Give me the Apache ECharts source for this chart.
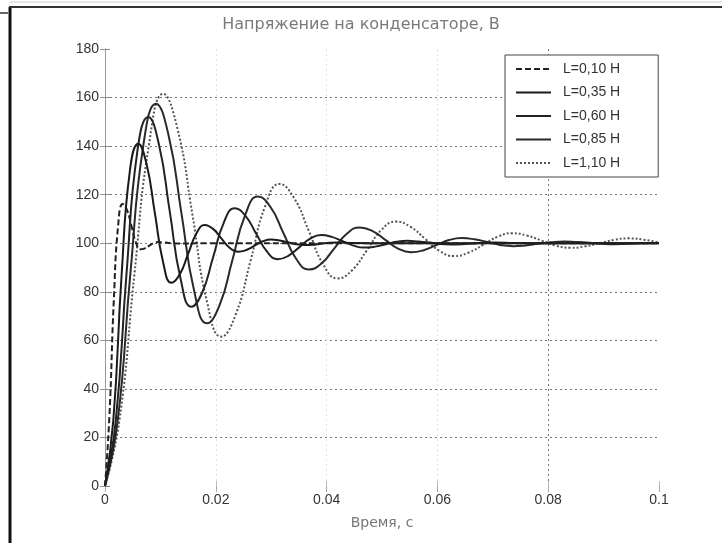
<!DOCTYPE html>
<html>
<head>
<meta charset="utf-8">
<script src="https://cdn.jsdelivr.net/npm/echarts@6/dist/echarts.min.js"></script>
<style>
html,body{margin:0;padding:0;background:#fff;}
#c{width:722px;height:543px;}
</style>
</head>
<body>
<div id="c"></div>
<script>
const titleText = 'Напряжение на конденсаторе, В';
const xName = 'Время, с';
const seriesNames = ['L=0,10 H', 'L=0,35 H', 'L=0,60 H', 'L=0,85 H', 'L=1,10 H'];
const xTicks = [0, 0.02, 0.04, 0.06, 0.08, 0.1];
const yTicks = [0, 20, 40, 60, 80, 100, 120, 140, 160, 180];

const dataL010 = [[0,0],[0.0008,29],[0.0016,77],[0.0024,108],[0.0032,116.2],[0.004,113.5],[0.0048,106.9],[0.0056,100.2],[0.0064,97.5],[0.0072,97.9],[0.008,99],[0.0088,100.1],[0.0096,100.5],[0.0104,100.4],[0.0112,100.2],[0.012,100],[0.0128,99.9],[0.02,100],[0.04,100],[0.06,100],[0.08,100],[0.1,100]];

const dataL035 = [[0,0],[0.0015,27],[0.003,87],[0.0045,130],[0.006,141],[0.0075,132.6],[0.009,112.4],[0.0105,92.1],[0.012,83.7],[0.0135,87.2],[0.015,95.6],[0.0165,104],[0.018,107.5],[0.0195,105.9],[0.021,102],[0.0225,98.1],[0.024,96.5],[0.0255,97.2],[0.027,99],[0.0285,100.8],[0.03,101.5],[0.0315,101.1],[0.033,100.4],[0.0345,99.6],[0.036,99.3],[0.0375,99.4],[0.039,99.8],[0.0405,100.2],[0.042,100.3],[0.045,100.1],[0.05,100],[0.07,100],[0.1,100]];

const dataL060 = [[0,0],[0.00195,27],[0.0039,88],[0.00585,138],[0.0078,152],[0.00975,140.5],[0.0117,112.9],[0.01365,85.3],[0.0156,73.8],[0.01755,79.7],[0.0195,94.1],[0.02145,108.5],[0.0234,114.4],[0.02535,111.3],[0.0273,103.9],[0.02925,96.5],[0.0312,93.4],[0.03315,94.9],[0.0351,98.4],[0.03705,101.9],[0.039,103.4],[0.04095,102.6],[0.0429,100.8],[0.04485,99],[0.0468,98.2],[0.04875,98.6],[0.0507,99.6],[0.05265,100.6],[0.0546,101],[0.05655,100.7],[0.0585,100.25],[0.06045,99.7],[0.0624,99.5],[0.06435,99.6],[0.0663,99.9],[0.06825,100.2],[0.0702,100.3],[0.074,100.1],[0.08,100],[0.1,100]];

const dataL085 = [[0,0],[0.0023,27],[0.0046,88],[0.0069,140],[0.0092,157.5],[0.0115,144.2],[0.0138,112.3],[0.0161,80.3],[0.0184,67],[0.0207,74.6],[0.023,93.1],[0.0253,111.6],[0.0276,119.2],[0.0299,114.8],[0.0322,104.2],[0.0345,93.6],[0.0368,89.2],[0.0391,91.7],[0.0414,97.9],[0.0437,104],[0.046,106.5],[0.0483,105],[0.0506,101.4],[0.0529,97.8],[0.0552,96.3],[0.0575,97.1],[0.0598,99.2],[0.0621,101.3],[0.0644,102.1],[0.0667,101.6],[0.069,100.5],[0.0713,99.3],[0.0736,98.8],[0.0759,99.1],[0.0782,99.8],[0.0805,100.4],[0.0828,100.7],[0.0851,100.5],[0.0874,100.2],[0.0897,99.8],[0.092,99.6],[0.0966,100],[0.1,100.1]];

const dataL110 = [[0,0],[0.0026,27],[0.0053,87],[0.0079,140],[0.0105,161.5],[0.0131,147],[0.0158,111.5],[0.0184,76],[0.021,61.5],[0.0236,70.7],[0.0263,93],[0.0289,115.2],[0.0315,124.4],[0.0341,118.7],[0.0368,105],[0.0394,91.2],[0.042,85.5],[0.0446,88.9],[0.0473,97.2],[0.0499,105.5],[0.0525,108.9],[0.0551,106.8],[0.0578,101.8],[0.0604,96.8],[0.063,94.7],[0.0656,96.1],[0.0683,99.4],[0.0709,102.7],[0.0735,104.1],[0.0761,103.2],[0.0788,101.1],[0.0814,99],[0.084,98.1],[0.0866,98.7],[0.0893,100],[0.0919,101.4],[0.0945,102],[0.0971,101.5],[0.1,100.3]];

const seriesData = [dataL010, dataL035, dataL060, dataL085, dataL110];
const lineTypes = [[6,3], 'solid', 'solid', 'solid', [2,2]];
const lineColors = ['#222', '#1a1a1a', '#222', '#2a2a2a', '#555'];

const chart = echarts.init(document.getElementById('c'), null, {renderer: 'canvas'});
const FONT = '"Liberation Sans", Arial, sans-serif';

const option = {
  backgroundColor: '#fff',
  animation: false,
  title: {
    text: titleText,
    left: 'center',
    top: 12,
    textStyle: {fontSize: 16, fontWeight: 'normal', color: '#7a7a7a', fontFamily: '"DejaVu Sans", sans-serif'}
  },
  legend: {
    orient: 'vertical',
    left: 505,
    top: 55,
    selectedMode: false,
    padding: [7, 38, 7, 10],
    itemGap: 9.5,
    itemWidth: 35,
    itemHeight: 14,
    backgroundColor: '#fff',
    borderColor: '#444',
    borderWidth: 1,
    itemStyle: {opacity: 0},
    textStyle: {fontSize: 14, color: '#333', fontFamily: FONT, padding: [0, 0, 0, 7]},
    data: seriesNames
  },
  grid: {left: 105, right: 63, top: 49, bottom: 57, containLabel: false},
  xAxis: [{
    type: 'value',
    min: 0, max: 0.1, interval: 0.02,
    name: xName,
    nameLocation: 'middle',
    nameGap: 30,
    nameTextStyle: {fontSize: 14, color: '#777', fontFamily: '"DejaVu Sans", sans-serif'},
    axisLine: {show: false},
    axisTick: {show: true, inside: true, length: 5, lineStyle: {color: '#bbb'}},
    axisLabel: {fontSize: 14, color: '#333', fontFamily: FONT, margin: 7,
      formatter: v => String(+v.toFixed(2))},
    splitLine: {show: true, lineStyle: {type: [2, 3], width: 1,
      color: ['rgba(0,0,0,0)', '#e2e2e2', '#e2e2e2', '#e2e2e2', '#777', 'rgba(0,0,0,0)']}}
  }, {
    type: 'value',
    position: 'top',
    min: 0, max: 0.1, interval: 0.02,
    axisLine: {show: false},
    axisTick: {show: true, inside: true, length: 6, lineStyle: {color: '#aaa'}},
    axisLabel: {show: false},
    splitLine: {show: false}
  }],
  yAxis: [{
    type: 'value',
    min: 0, max: 180, interval: 20,
    axisLine: {show: true, lineStyle: {color: '#888', width: 1}},
    axisTick: {show: true, inside: true, length: 5, lineStyle: {color: '#888'}},
    axisLabel: {fontSize: 14, color: '#333', fontFamily: FONT, margin: 6},
    splitLine: {show: true, lineStyle: {type: [2, 3], width: 1,
      color: ['rgba(0,0,0,0)', '#777', '#777', '#777', '#777', '#777', '#777', '#777', '#777', 'rgba(0,0,0,0)']}}
  }, {
    type: 'value',
    position: 'right',
    min: 0, max: 180, interval: 20,
    axisLine: {show: true, lineStyle: {color: '#999', width: 1}},
    axisTick: {show: true, inside: true, length: 5, lineStyle: {color: '#999'}},
    axisLabel: {show: false},
    splitLine: {show: false}
  }],
  graphic: [
    {type: 'line', shape: {x1: 10, y1: 7, x2: 10, y2: 543}, style: {stroke: '#111', lineWidth: 3}},
    {type: 'line', shape: {x1: 9, y1: 7, x2: 722, y2: 7}, style: {stroke: '#333', lineWidth: 2}},
    {type: 'line', shape: {x1: 9, y1: 2, x2: 722, y2: 2}, style: {stroke: '#ccc', lineWidth: 1}},
    {type: 'line', shape: {x1: 0, y1: 13, x2: 8, y2: 13}, style: {stroke: '#333', lineWidth: 1.5}}
  ],
  series: seriesNames.map((name, i) => ({
    name: name,
    type: 'line',
    xAxisIndex: 0,
    yAxisIndex: 0,
    data: seriesData[i],
    symbol: 'none',
    smooth: 0.5,
    z: 10 - i,
    lineStyle: {color: lineColors[i], width: 2, type: lineTypes[i]},
    itemStyle: {color: lineColors[i]}
  }))
};
chart.setOption(option);
</script>
</body>
</html>
